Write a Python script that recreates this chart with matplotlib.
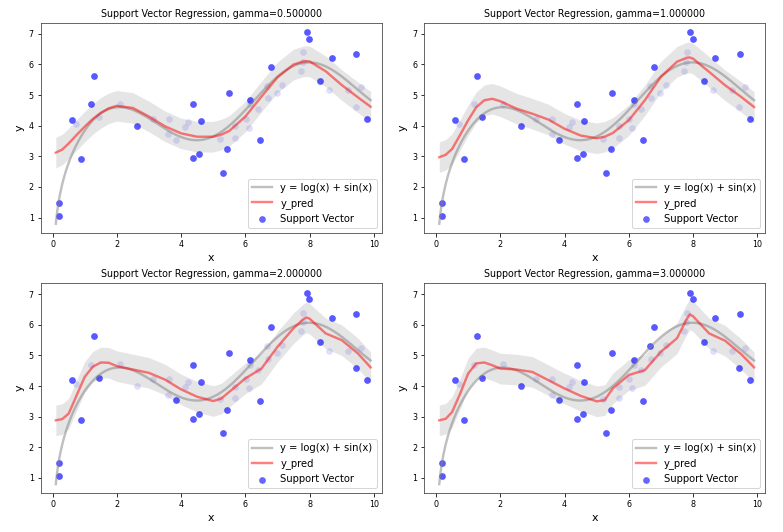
import numpy as np
import matplotlib
matplotlib.use("Agg")
import matplotlib.pyplot as plt

# training data (x, y)
data_x = [0.20, 0.20, 0.60, 0.72, 0.875, 1.19, 1.29, 1.44, 2.09, 2.64,
          3.11, 3.60, 3.61, 3.83, 4.125, 4.23, 4.375, 4.375, 4.57, 4.61,
          5.21, 5.29, 5.44, 5.48, 5.68, 5.69, 6.01, 6.10, 6.16, 6.15,
          6.39, 6.45, 6.66, 6.70, 6.80, 6.97, 7.15, 7.72, 7.79, 7.80,
          7.92, 7.99, 8.33, 8.61, 8.69, 9.21, 9.43, 9.45, 9.61, 9.78]
data_y = [1.48, 1.05, 4.20, 4.07, 2.90, 4.70, 5.62, 4.27, 4.72, 4.00,
          4.23, 3.72, 4.22, 3.54, 3.96, 4.12, 4.70, 2.93, 3.08, 4.14,
          3.58, 2.45, 3.23, 5.08, 3.61, 3.98, 4.22, 3.92, 4.85, 4.70,
          4.53, 3.52, 5.30, 4.89, 5.93, 5.07, 5.34, 5.80, 6.09, 6.40,
          7.05, 6.84, 5.45, 5.16, 6.22, 5.16, 4.60, 6.35, 5.25, 4.21]

gammas = [0.5, 1.0, 2.0, 3.0]

# indices of support vectors in each panel
sv_05 = [0, 1, 2, 4, 5, 6, 9, 16, 17, 18, 19, 21, 22, 23, 28, 31, 34, 40, 41, 42, 44, 47, 49]
sv_10 = [0, 1, 2, 4, 6, 7, 9, 13, 16, 17, 18, 19, 21, 22, 23, 28, 31, 34, 40, 41, 42, 44, 47, 49]
sv_20 = [0, 1, 2, 4, 6, 7, 13, 16, 17, 18, 19, 21, 22, 23, 28, 31, 34, 40, 41, 42, 44, 46, 47, 49]
sv_30 = [0, 1, 2, 4, 6, 7, 9, 13, 16, 17, 18, 19, 21, 22, 23, 28, 31, 32, 34, 40, 41, 42, 44, 46, 47, 49]

# predicted curves
pred_x = [0.1, 0.3, 0.5, 0.75, 1.0, 1.25, 1.5, 1.75, 2.0, 2.5, 3.0, 3.5, 4.0, 4.5,
          5.0, 5.25, 5.5, 6.0, 6.5, 7.0, 7.5, 7.8, 7.9, 8.0, 8.5, 9.0, 9.5, 9.9]
pred_05 = [3.12, 3.22, 3.42, 3.70, 3.97, 4.22, 4.42, 4.57, 4.65, 4.58, 4.30, 3.98, 3.75, 3.64,
           3.64, 3.71, 3.83, 4.30, 4.95, 5.58, 6.00, 6.10, 6.11, 6.10, 5.78, 5.33, 4.93, 4.62]
pred_10 = [2.97, 3.05, 3.24, 3.70, 4.18, 4.60, 4.83, 4.88, 4.80, 4.56, 4.39, 4.20, 3.90, 3.68,
           3.59, 3.64, 3.76, 4.18, 4.83, 5.60, 6.09, 6.22, 6.23, 6.19, 5.76, 5.32, 4.94, 4.61]
pred_20 = [2.88, 2.92, 3.10, 3.70, 4.30, 4.63, 4.77, 4.76, 4.65, 4.54, 4.43, 4.21, 3.89, 3.65,
           3.51, 3.59, 3.81, 4.25, 4.57, 5.28, 5.89, 6.18, 6.24, 6.20, 5.72, 5.50, 5.07, 4.61]
pred_30 = [2.88, 2.93, 3.15, 3.75, 4.41, 4.74, 4.77, 4.68, 4.57, 4.54, 4.46, 4.19, 3.92, 3.68,
           3.50, 3.54, 3.92, 4.36, 4.52, 5.12, 5.56, 6.18, 6.34, 6.28, 5.72, 5.48, 5.04, 4.61]

epsilon = 0.5

preds = [pred_05, pred_10, pred_20, pred_30]
svs = [sv_05, sv_10, sv_20, sv_30]

# the labelled true function (drawn shifted by +3 as in the chart)
x_true = np.linspace(0.1, 9.9, 300)
y_true = np.log(x_true) + np.sin(x_true) + 3

fig, axes = plt.subplots(2, 2, figsize=(783 / 72, 532 / 72), dpi=72)
plt.subplots_adjust(left=0.052, right=0.977, top=0.957, bottom=0.073,
                    wspace=0.125, hspace=0.24)

dx = np.array(data_x)
dy = np.array(data_y)

for ax, g, yp, sv in zip(axes.flat, gammas, preds, svs):
    yp = np.array(yp)
    ax.scatter(dx, dy, s=45, color='b', alpha=0.13, linewidths=0)
    ax.plot(x_true, y_true, color='gray', alpha=0.5, lw=2.4, label='y = log(x) + sin(x)')
    ax.plot(pred_x, yp, color='r', alpha=0.5, lw=2.4, label='y_pred')
    ax.fill_between(pred_x, yp - epsilon, yp + epsilon, color='gray', alpha=0.2, lw=0)
    ax.scatter(dx[sv], dy[sv], s=45, color='b', alpha=0.6, linewidths=0,
               label='Support Vector')
    ax.set_xlim(-0.37, 10.24)
    ax.set_ylim(0.5, 7.36)
    ax.set_title('Support Vector Regression, gamma=%f' % g, fontsize=9.5)
    ax.set_xlabel('x', fontsize=11)
    ax.set_ylabel('y', fontsize=11)
    ax.tick_params(labelsize=8)
    for s in ax.spines.values():
        s.set_color('#444444')
    ax.legend(loc='lower right', fontsize=10)

plt.savefig('out.png', dpi=72)
